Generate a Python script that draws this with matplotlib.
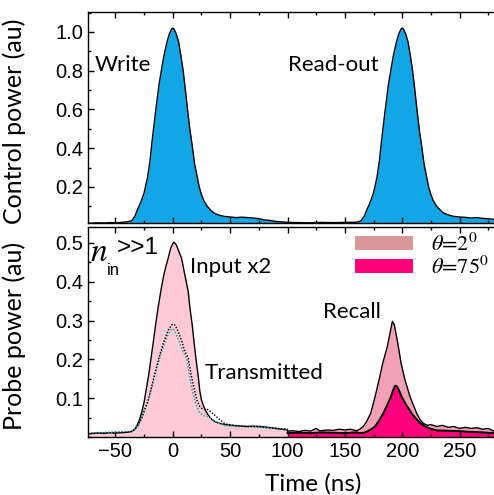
import numpy as np
import matplotlib.pyplot as plt
from matplotlib.patches import Patch
from matplotlib.ticker import MultipleLocator

# ---------- data ----------
# control pulses (write at 0 ns, read-out at 200 ns)
ctrl_t = [-74, -70, -65, -60, -55, -50, -45, -40, -36, -33, -31, -28, -25, -22, -20, -18,
          -15, -12, -10, -8, -5, -3, -1, 0, 1, 3, 5, 7, 9, 11, 13, 15, 17, 19, 21, 23, 25,
          27, 30, 33, 36, 40, 45, 50, 55, 60, 65, 70, 75, 80, 85, 90, 95, 100, 110, 120,
          130, 140, 150, 160, 164, 167, 169, 172, 175, 178, 180, 182, 185, 188, 190, 192,
          195, 197, 199, 200, 201, 203, 205, 207, 209, 211, 213, 215, 217, 219, 221, 223,
          225, 227, 230, 233, 236, 240, 245, 250, 255, 260, 265, 270, 275, 280]
ctrl_p = [0.012, 0.014, 0.015, 0.014, 0.016, 0.015, 0.017, 0.020, 0.025, 0.050, 0.080,
          0.120, 0.170, 0.250, 0.330, 0.440, 0.590, 0.730, 0.800, 0.870, 0.950, 0.990,
          1.015, 1.020, 1.015, 0.990, 0.950, 0.880, 0.800, 0.700, 0.590, 0.490, 0.410,
          0.320, 0.260, 0.200, 0.160, 0.130, 0.100, 0.080, 0.065, 0.055, 0.048, 0.045,
          0.042, 0.044, 0.042, 0.040, 0.036, 0.030, 0.027, 0.022, 0.020, 0.017, 0.016,
          0.015, 0.017, 0.016, 0.017, 0.018, 0.025, 0.050, 0.080, 0.120, 0.170, 0.250,
          0.330, 0.440, 0.590, 0.730, 0.800, 0.870, 0.950, 0.990, 1.015, 1.020, 1.015,
          0.990, 0.950, 0.880, 0.800, 0.700, 0.590, 0.490, 0.410, 0.320, 0.260, 0.200,
          0.160, 0.130, 0.100, 0.082, 0.066, 0.056, 0.048, 0.045, 0.043, 0.040, 0.042,
          0.038, 0.036, 0.033]

# probe input (x2)
inp_t = [-74, -70, -65, -60, -55, -50, -45, -40, -36, -33, -31, -29, -27, -25, -23.5, -21,
         -19, -17, -15, -13, -10.5, -8, -6, -4, -2, 0, 1, 3, 5, 7.6, 10, 13.4, 15, 16.9,
         18.5, 20.1, 22, 23.6, 25, 26.5, 29, 31, 34, 37, 42, 48, 55, 60, 65, 70, 77, 85,
         90, 95, 100]
inp_p = [0.008, 0.009, 0.010, 0.009, 0.011, 0.010, 0.011, 0.012, 0.014, 0.020, 0.031,
         0.045, 0.065, 0.090, 0.117, 0.160, 0.203, 0.245, 0.289, 0.330, 0.375, 0.415,
         0.440, 0.461, 0.485, 0.498, 0.502, 0.495, 0.480, 0.461, 0.425, 0.375, 0.330,
         0.289, 0.245, 0.203, 0.160, 0.117, 0.095, 0.082, 0.065, 0.056, 0.045, 0.039,
         0.034, 0.031, 0.029, 0.028, 0.027, 0.028, 0.027, 0.024, 0.022, 0.020, 0.018]

# transmitted (two runs, dotted)
tr1_t = [-74, -65, -55, -45, -40, -36, -33, -30, -27, -25.3, -22, -19.5, -16, -12.2, -8,
         -4, -1, 0, 2, 5, 8, 10, 13.4, 16, 19.2, 21, 23.6, 26, 29, 31, 35, 39.6, 45, 50,
         60, 70, 80, 90, 100]
tr1_p = [0.009, 0.010, 0.011, 0.012, 0.012, 0.014, 0.020, 0.031, 0.050, 0.065, 0.090,
         0.117, 0.160, 0.203, 0.245, 0.275, 0.288, 0.291, 0.288, 0.270, 0.245, 0.225,
         0.203, 0.160, 0.117, 0.095, 0.078, 0.072, 0.072, 0.070, 0.060, 0.048, 0.035,
         0.031, 0.028, 0.027, 0.025, 0.022, 0.020]
tr2_t = [-74, -65, -55, -45, -40, -36, -33, -30, -27, -25.3, -22, -19.5, -16, -12.2, -8,
         -4, -1.5, -0.5, 1, 4, 7, 9, 12, 14.5, 17.2, 20, 23.6, 27, 31, 35, 40, 45, 50, 60,
         70, 80, 90, 100]
tr2_p = [0.010, 0.011, 0.012, 0.013, 0.013, 0.015, 0.020, 0.030, 0.048, 0.063, 0.088,
         0.114, 0.155, 0.196, 0.236, 0.265, 0.276, 0.279, 0.276, 0.258, 0.235, 0.220,
         0.203, 0.160, 0.117, 0.085, 0.061, 0.055, 0.052, 0.045, 0.035, 0.030, 0.028,
         0.027, 0.026, 0.024, 0.022, 0.020]

# recall, theta = 2 deg
r2_t = [100, 105, 110, 115, 120, 125, 128, 135, 140, 145, 150, 155, 160, 163, 166, 169,
        172.5, 176, 179.8, 183, 187, 189.5, 191.4, 193, 195, 196.6, 199, 202.4, 206.8,
        210, 212.6, 215.5, 218.4, 222, 225, 230, 235, 240, 245, 250, 255, 260, 265, 270,
        275, 280]
r2_p = [0.015, 0.016, 0.014, 0.017, 0.015, 0.022, 0.016, 0.018, 0.017, 0.020, 0.018,
        0.020, 0.016, 0.020, 0.027, 0.040, 0.061, 0.100, 0.147, 0.190, 0.233, 0.270,
        0.298, 0.290, 0.260, 0.233, 0.190, 0.147, 0.104, 0.080, 0.061, 0.045, 0.035,
        0.030, 0.032, 0.027, 0.030, 0.025, 0.027, 0.022, 0.025, 0.022, 0.024, 0.020,
        0.022, 0.015]

# recall, theta = 75 deg
r75_t = [100, 110, 120, 130, 140, 150, 160, 163, 166.5, 170, 173, 176.3, 180, 183.5, 187,
         190.2, 192, 193.7, 195.5, 197.5, 199.5, 203, 208.2, 212, 215.5, 220, 224, 230,
         240, 250, 260, 270, 280]
r75_p = [0.010, 0.011, 0.010, 0.012, 0.011, 0.010, 0.012, 0.010, 0.011, 0.015, 0.020,
         0.027, 0.043, 0.061, 0.083, 0.104, 0.120, 0.132, 0.130, 0.118, 0.104, 0.085,
         0.061, 0.047, 0.036, 0.027, 0.022, 0.017, 0.016, 0.015, 0.013, 0.012, 0.010]

# ---------- style ----------
BLUE = "#13a6e6"
PINK_LIGHT = "#ffcad7"
PINK_MID = "#f2a1b5"
PINK_LEG = "#d9979a"
PINK_HOT = "#ff007a"
TEAL = "#3aa8a8"
LABEL_FONT = "Lato"

plt.rcParams["font.family"] = ["Liberation Sans", "DejaVu Sans"]
plt.rcParams["mathtext.fontset"] = "stix"

fig = plt.figure(figsize=(4.94, 4.95), dpi=100)
ax1 = fig.add_axes([0.178, 0.5495, 0.822, 0.4263])
ax2 = fig.add_axes([0.178, 0.1172, 0.822, 0.4242])


def style_axes(ax):
    ax.spines["right"].set_visible(False)
    for sp in ax.spines.values():
        sp.set_linewidth(1.0)
    ax.tick_params(which="both", direction="in", top=True, right=False,
                   labelsize=14.5, width=1.0)
    ax.tick_params(which="major", length=4)
    ax.tick_params(which="minor", length=2.5)
    ax.xaxis.set_major_locator(MultipleLocator(50))
    ax.xaxis.set_minor_locator(MultipleLocator(25))
    ax.set_xlim(-74, 280)


# ---------- top: control ----------
ax1.fill_between(ctrl_t, ctrl_p, 0, color=BLUE, lw=0)
ax1.plot(ctrl_t, ctrl_p, color="black", lw=1.0)
ax1.set_ylim(0.014, 1.103)
ax1.set_yticks([0.2, 0.4, 0.6, 0.8, 1.0])
ax1.yaxis.set_minor_locator(MultipleLocator(0.1))
style_axes(ax1)
ax1.tick_params(labelbottom=False)
ax1.set_ylabel("Control power (au)", family=LABEL_FONT, fontsize=18)
ax1.yaxis.set_label_coords(-0.152, 0.48)
ax1.text(-68, 0.83, "Write", family=LABEL_FONT, fontsize=16, va="center")
ax1.text(100, 0.83, "Read-out", family=LABEL_FONT, fontsize=16, va="center")

# ---------- bottom: probe ----------
ax2.fill_between(inp_t, inp_p, 0, color=PINK_LIGHT, lw=0)
ax2.plot(inp_t, inp_p, color="black", lw=1.0)
ax2.plot(tr2_t, tr2_p, color=TEAL, lw=1.2, ls=(0, (1, 1)))
ax2.plot(tr1_t, tr1_p, color="black", lw=1.0, ls=(0, (1, 1.2)))
ax2.fill_between(r2_t, r2_p, 0, color=PINK_MID, lw=0)
ax2.plot(r2_t, r2_p, color="black", lw=1.0)
ax2.fill_between(r75_t, r75_p, 0, color=PINK_HOT, lw=0)
ax2.plot(r75_t, r75_p, color="black", lw=1.4)
ax2.set_ylim(0.0, 0.541)
ax2.set_yticks([0.1, 0.2, 0.3, 0.4, 0.5])
ax2.yaxis.set_minor_locator(MultipleLocator(0.05))
style_axes(ax2)
ax2.set_ylabel("Probe power (au)", family=LABEL_FONT, fontsize=18)
ax2.yaxis.set_label_coords(-0.152, 0.48)
ax2.set_xlabel("Time (ns)", family=LABEL_FONT, fontsize=17.5)
ax2.xaxis.set_label_coords(0.554, -0.17)

ax2.text(15, 0.439, "Input x2", family=LABEL_FONT, fontsize=16, va="center")
ax2.text(28, 0.165, "Transmitted", family=LABEL_FONT, fontsize=16, va="center")
ax2.text(131, 0.323, "Recall", family=LABEL_FONT, fontsize=16, va="center")

# n_in >> 1
ax2.text(-71.5, 0.474, "n", family="STIXGeneral", style="italic", fontsize=24,
         va="center")
ax2.text(-57.5, 0.428, "in", fontsize=12, va="center")
ax2.text(-48.5, 0.488, ">>1", fontsize=17.5, va="center")

# legend
handles = [Patch(color=PINK_LEG, lw=0), Patch(color=PINK_HOT, lw=0)]
labels = [r"$\theta$=2$^0$", r"$\theta$=75$^0$"]
leg = ax2.legend(handles, labels, loc="upper right", bbox_to_anchor=(1.02, 1.03),
                 frameon=False, prop={"family": "STIXGeneral", "size": 16},
                 handlelength=2.6, handleheight=0.6, handletextpad=0.8,
                 labelspacing=0.0, borderaxespad=0.2)

fig.savefig("out.png", dpi=100)
